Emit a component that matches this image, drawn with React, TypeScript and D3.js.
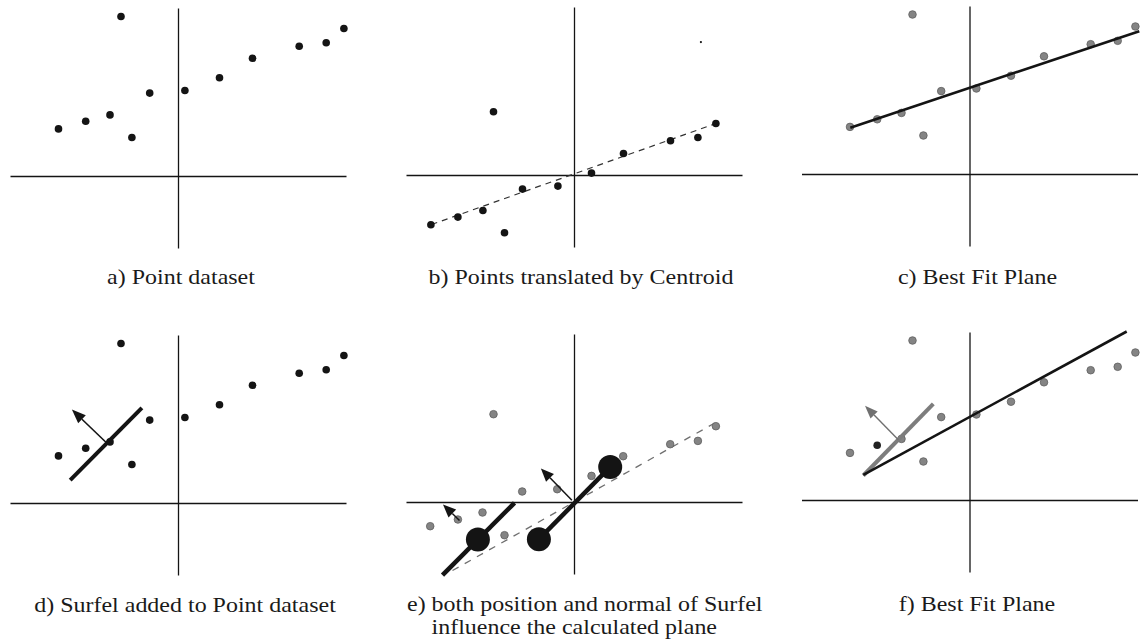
import React from "react";
import * as d3 from "d3";

// ---------- data (units relative to each panel's axis origin, y up) ----------
const AXIS_X_EXTENT: [number, number] = [-168, 168];
const AXIS_Y_EXTENT: [number, number] = [-72, 168];

// original point dataset (panels a, c, d, f)
const basePoints: [number, number][] = [
  [-120, 47.6], [-92.8, 55.2], [-68.5, 61.6], [-57.5, 160], [-46.6, 39], [-28.8, 83.4],
  [6.4, 86], [41, 98.8], [74, 118.2], [120.7, 130.3], [147.7, 133.7], [165.4, 148],
];
// points translated by centroid (panel b)
const centeredPoints: [number, number][] = [
  [-143.6, -49.3], [-116.6, -41.6], [-91.6, -35], [-81, 63.7], [-70, -57.3], [-52, -13.6],
  [-16.6, -10.6], [17, 2.4], [49, 22], [96, 34.7], [123.4, 38], [141.4, 52],
];
const strayDot: [number, number] = [126.4, 133.4];
const centeredLine: [number, number][] = [[-143, -49], [141.4, 52]];

// best fit plane (panel c)
const fitLineC: [number, number][] = [[-119.7, 46.7], [169.3, 143.3]];

// surfel (panel d)
const surfelLineD: [number, number][] = [[-108.3, 23.3], [-36.6, 95.6]];
const surfelNormalD: [number, number][] = [[-72.3, 61], [-106.6, 94]];

// panel e
const ePoints: [number, number][] = [
  [-144.3, -23.7], [-116.6, -17], [-92, -10], [-81, 88.3], [-70, -32.7], [-52.3, 11],
  [-17.3, 13.3], [17, 26.6], [48.7, 46.3], [95.7, 58.3], [123.4, 61.6], [141.4, 76.3],
];
const eDashedLine: [number, number][] = [[-122, -68], [141.7, 80.3]];
const eSurfelLines: [number, number][][] = [
  [[-132, -72.7], [-60, -0.4]],
  [[-35.6, -36.7], [35.7, 35.6]],
];
const eDiscs: [number, number][] = [[-96.6, -37], [-35.6, -36.7], [35.7, 35.6]];
const eNormals: [number, number][][] = [
  [[-115, -18], [-131.5, -2]],
  [[-2.6, 2.3], [-33.6, 34]],
];

// panel f
const fitLineF: [number, number][] = [[-106.7, 25.7], [156.7, 169]];
const surfelLineF: [number, number][] = [[-106.7, 25], [-36.7, 96.7]];
const surfelNormalF: [number, number][] = [[-71.7, 60.7], [-105, 94.7]];
const fDarkIndex = 1;

// captions
const captions = [
  { lines: ["a) Point dataset"] },
  { lines: ["b) Points translated by Centroid"] },
  { lines: ["c) Best Fit Plane"] },
  { lines: ["d) Surfel added to Point dataset"] },
  { lines: ["e) both position and normal of Surfel", "influence the calculated plane"] },
  { lines: ["f) Best Fit Plane"] },
];

// ---------- layout ----------
const W = 1141;
const H = 640;
const ORIGINS: [number, number][] = [
  [178.5, 176.5], [574.5, 175.5], [970, 174.5],
  [178.5, 503.5], [574.5, 502.5], [970, 500.5],
];
const CAPTION_POS = [
  { x: 181, y: 284, anchor: "middle" },
  { x: 581, y: 283.5, anchor: "middle" },
  { x: 977.5, y: 283.5, anchor: "middle" },
  { x: 185, y: 611.5, anchor: "middle" },
  { x: 407, y: 610.5, anchor: "start", indent: 24.5, lineGap: 23.4 },
  { x: 977, y: 611, anchor: "middle" },
];
const FONT_SIZE = 21;
const STRETCH = 1.142;

const INK = "#141414";
const GREY = "#848484";
const DOT_R = 3.8;

function makeScales(i: number) {
  const [ox, oy] = ORIGINS[i];
  const x = d3.scaleLinear().domain(AXIS_X_EXTENT).range([ox + AXIS_X_EXTENT[0], ox + AXIS_X_EXTENT[1]]);
  const y = d3.scaleLinear().domain(AXIS_Y_EXTENT).range([oy - AXIS_Y_EXTENT[0], oy - AXIS_Y_EXTENT[1]]);
  return { x, y };
}

type S = ReturnType<typeof makeScales>;

function Axes({ s }: { s: S }) {
  return (
    <g stroke={INK} strokeWidth={1.3}>
      <line x1={s.x(AXIS_X_EXTENT[0])} x2={s.x(AXIS_X_EXTENT[1])} y1={s.y(0)} y2={s.y(0)} />
      <line x1={s.x(0)} x2={s.x(0)} y1={s.y(AXIS_Y_EXTENT[0])} y2={s.y(AXIS_Y_EXTENT[1])} />
    </g>
  );
}

function Dots({ s, pts, fill, dark }: { s: S; pts: [number, number][]; fill: string; dark?: number }) {
  return (
    <g>
      {pts.map((p, i) => (
        <circle
          key={i}
          cx={s.x(p[0])}
          cy={s.y(p[1])}
          r={DOT_R}
          fill={i === dark ? "#222" : fill}
          stroke={fill === INK || i === dark ? "none" : "#5e5e5e"}
          strokeWidth={0.8}
        />
      ))}
    </g>
  );
}

function Seg({ s, seg, ...rest }: { s: S; seg: [number, number][]; [k: string]: any }) {
  const line = d3.line<[number, number]>().x((d) => s.x(d[0])).y((d) => s.y(d[1]));
  return <path d={line(seg) || ""} fill="none" {...rest} />;
}

function Arrow({ s, seg, color, width = 1.5, head = 13, half = 5 }: { s: S; seg: [number, number][]; color: string; width?: number; head?: number; half?: number }) {
  const x0 = s.x(seg[0][0]);
  const y0 = s.y(seg[0][1]);
  const x1 = s.x(seg[1][0]);
  const y1 = s.y(seg[1][1]);
  const dx = x1 - x0;
  const dy = y1 - y0;
  const len = Math.hypot(dx, dy);
  const ux = dx / len;
  const uy = dy / len;
  const bx = x1 - ux * head;
  const by = y1 - uy * head;
  const pts = [
    [x1, y1],
    [bx - uy * half, by + ux * half],
    [bx + uy * half, by - ux * half],
  ];
  return (
    <g>
      <line x1={x0} y1={y0} x2={bx} y2={by} stroke={color} strokeWidth={width} />
      <polygon points={pts.map((p) => p.join(",")).join(" ")} fill={color} />
    </g>
  );
}

export default function App() {
  const sc = ORIGINS.map((_, i) => makeScales(i));
  const [sa, sb, scc, sd, se, sf] = sc;
  return (
    <svg
      width={W}
      height={H}
      viewBox={`0 0 ${W} ${H}`}
      style={{ position: "absolute", left: 0, top: 0, background: "#fff" }}
    >
      <rect width={W} height={H} fill="#fff" />

      {/* a) */}
      <Axes s={sa} />
      <Dots s={sa} pts={basePoints} fill={INK} />

      {/* b) */}
      <Axes s={sb} />
      <Seg s={sb} seg={centeredLine} stroke="#333" strokeWidth={1.2} strokeDasharray="6,5" />
      <Dots s={sb} pts={centeredPoints} fill={INK} />
      <circle cx={sb.x(strayDot[0])} cy={sb.y(strayDot[1])} r={1.1} fill={INK} />

      {/* c) */}
      <Axes s={scc} />
      <Dots s={scc} pts={basePoints} fill={GREY} />
      <Seg s={scc} seg={fitLineC} stroke={INK} strokeWidth={2.6} />

      {/* d) */}
      <Axes s={sd} />
      <Dots s={sd} pts={basePoints} fill={INK} />
      <Seg s={sd} seg={surfelLineD} stroke={INK} strokeWidth={4} />
      <Arrow s={sd} seg={surfelNormalD} color={INK} width={1.6} head={14} half={5.5} />

      {/* e) */}
      <Axes s={se} />
      <Seg s={se} seg={eDashedLine} stroke="#6f6f6f" strokeWidth={1.3} strokeDasharray="7,7" />
      <Dots s={se} pts={ePoints} fill={GREY} />
      {eSurfelLines.map((seg, i) => (
        <Seg key={i} s={se} seg={seg} stroke={INK} strokeWidth={4.5} />
      ))}
      {eDiscs.map((p, i) => (
        <circle key={i} cx={se.x(p[0])} cy={se.y(p[1])} r={12} fill={INK} />
      ))}
      {eNormals.map((seg, i) => (
        <Arrow key={i} s={se} seg={seg} color={INK} width={1.5} head={13} half={5.5} />
      ))}

      {/* f) */}
      <Axes s={sf} />
      <Dots s={sf} pts={basePoints} fill={GREY} dark={fDarkIndex} />
      <Seg s={sf} seg={surfelLineF} stroke="#7d7d7d" strokeWidth={4} />
      <Seg s={sf} seg={fitLineF} stroke={INK} strokeWidth={2.6} />
      <Arrow s={sf} seg={surfelNormalF} color="#707070" width={1.4} head={13} half={5} />

      {/* captions */}
      <g fontFamily="'Liberation Serif', 'Times New Roman', serif" fontSize={FONT_SIZE} fill="#1a1a1a">
        {captions.map((c, i) => {
          const p = CAPTION_POS[i] as any;
          return c.lines.map((t, j) => (
            <text
              key={`${i}-${j}`}
              textAnchor={p.anchor}
              transform={`translate(${p.x + (j > 0 ? p.indent || 0 : 0)},${p.y + j * (p.lineGap || 23)}) scale(${STRETCH},1)`}
            >
              {t}
            </text>
          ));
        })}
      </g>
    </svg>
  );
}
